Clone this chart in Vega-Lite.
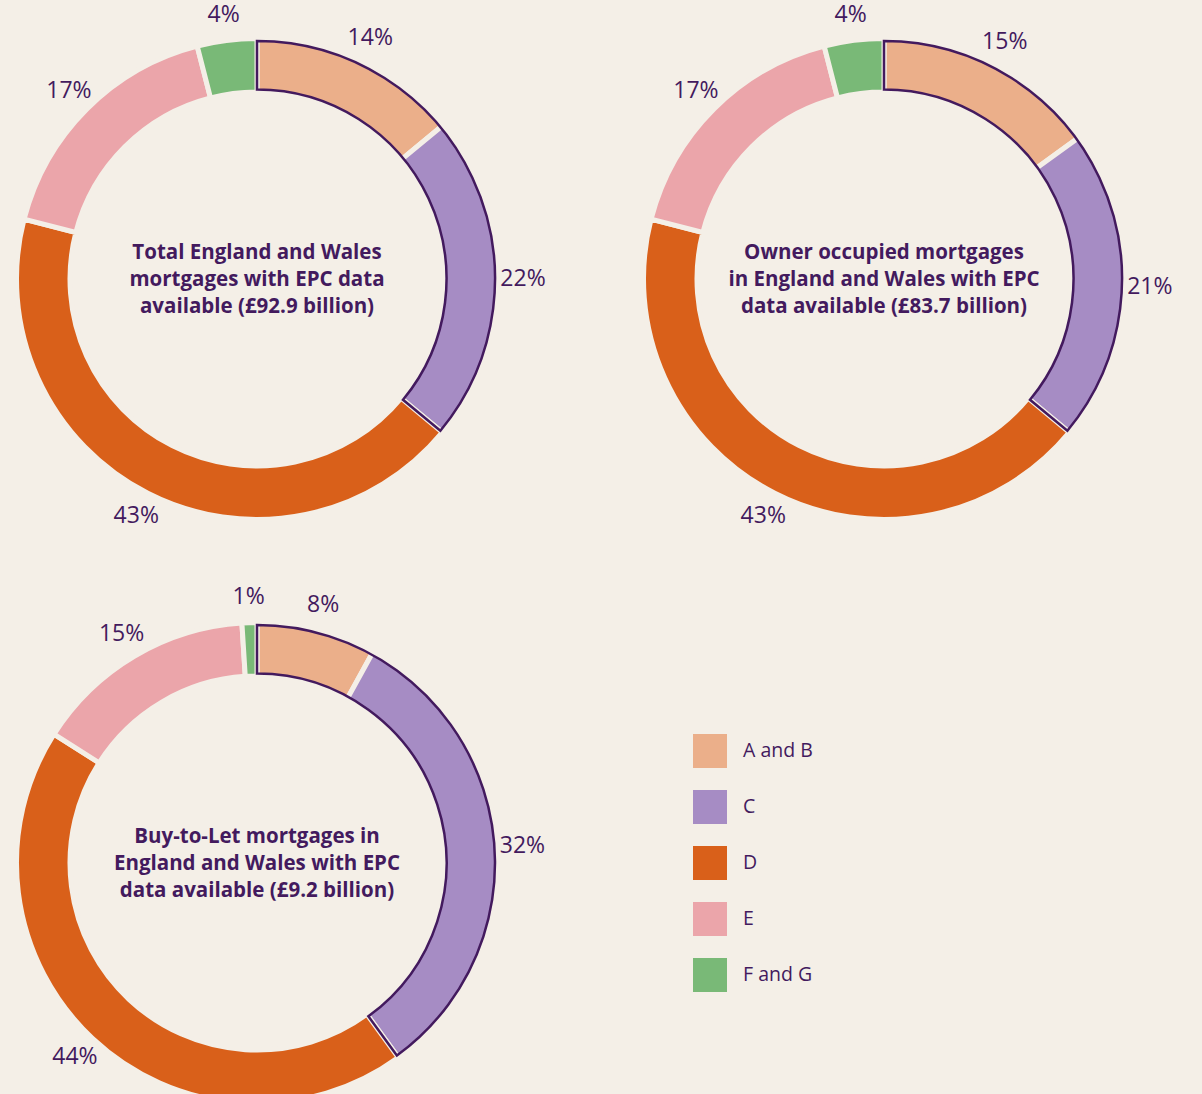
{
  "$schema": "https://vega.github.io/schema/vega-lite/v6.json",
  "background": "#f4efe7",
  "padding": {"left": 0, "top": 4, "right": 60, "bottom": 0},
  "bounds": "flush",
  "data": {
    "values": [
      {"chart": "Total", "category": "A and B", "value": 14, "title": "Total England and Wales\nmortgages with EPC data\navailable (£92.9 billion)"},
      {"chart": "Total", "category": "C", "value": 22, "title": "Total England and Wales\nmortgages with EPC data\navailable (£92.9 billion)"},
      {"chart": "Total", "category": "D", "value": 43, "title": "Total England and Wales\nmortgages with EPC data\navailable (£92.9 billion)"},
      {"chart": "Total", "category": "E", "value": 17, "title": "Total England and Wales\nmortgages with EPC data\navailable (£92.9 billion)"},
      {"chart": "Total", "category": "F and G", "value": 4, "title": "Total England and Wales\nmortgages with EPC data\navailable (£92.9 billion)"},
      {"chart": "Owner", "category": "A and B", "value": 15, "title": "Owner occupied mortgages\nin England and Wales with EPC\ndata available (£83.7 billion)"},
      {"chart": "Owner", "category": "C", "value": 21, "title": "Owner occupied mortgages\nin England and Wales with EPC\ndata available (£83.7 billion)"},
      {"chart": "Owner", "category": "D", "value": 43, "title": "Owner occupied mortgages\nin England and Wales with EPC\ndata available (£83.7 billion)"},
      {"chart": "Owner", "category": "E", "value": 17, "title": "Owner occupied mortgages\nin England and Wales with EPC\ndata available (£83.7 billion)"},
      {"chart": "Owner", "category": "F and G", "value": 4, "title": "Owner occupied mortgages\nin England and Wales with EPC\ndata available (£83.7 billion)"},
      {"chart": "BTL", "category": "A and B", "value": 8, "title": "Buy-to-Let mortgages in\nEngland and Wales with EPC\ndata available (£9.2 billion)"},
      {"chart": "BTL", "category": "C", "value": 32, "title": "Buy-to-Let mortgages in\nEngland and Wales with EPC\ndata available (£9.2 billion)"},
      {"chart": "BTL", "category": "D", "value": 44, "title": "Buy-to-Let mortgages in\nEngland and Wales with EPC\ndata available (£9.2 billion)"},
      {"chart": "BTL", "category": "E", "value": 15, "title": "Buy-to-Let mortgages in\nEngland and Wales with EPC\ndata available (£9.2 billion)"},
      {"chart": "BTL", "category": "F and G", "value": 1, "title": "Buy-to-Let mortgages in\nEngland and Wales with EPC\ndata available (£9.2 billion)"}
    ]
  },
  "facet": {
    "field": "chart",
    "type": "nominal",
    "sort": ["Total", "Owner", "BTL"],
    "header": {"labels": false, "title": null, "labelPadding": 0, "titlePadding": 0, "labelFontSize": 0, "labelExpr": "''"}
  },
  "columns": 2,
  "spacing": {"row": 40, "column": 113},
  "spec": {
    "width": 514,
    "height": 544,
    "layer": [
      {
        "mark": {"type": "arc", "radius": 240.5, "radius2": 187, "stroke": "#f4efe7", "strokeWidth": 5},
        "encoding": {
          "theta": {"field": "value", "type": "quantitative", "stack": true},
          "color": {
            "field": "category",
            "type": "nominal",
            "scale": {
              "domain": ["A and B", "C", "D", "E", "F and G"],
              "range": ["#ebaf8a", "#a68cc4", "#d9601a", "#eba5aa", "#79b977"]
            },
            "legend": {"title": null}
          },
          "order": {"field": "category", "type": "ordinal", "sort": "ascending"}
        }
      },
      {
        "transform": [
          {"filter": {"field": "category", "oneOf": ["A and B", "C"]}},
          {"aggregate": [{"op": "sum", "field": "value", "as": "value"}], "groupby": ["chart"]}
        ],
        "mark": {"type": "arc", "radius": 238, "radius2": 189.5, "fill": null, "fillOpacity": 0, "stroke": "#431a5e", "strokeWidth": 2.5},
        "encoding": {
          "theta": {"field": "value", "type": "quantitative", "stack": true}
        }
      },
      {
        "transform": [{"calculate": "datum.value + '%'", "as": "label"}],
        "mark": {"type": "text", "radius": 266, "font": "Open Sans", "fontSize": 23, "fill": "#431a5e", "align": "center", "baseline": "middle"},
        "encoding": {
          "theta": {"field": "value", "type": "quantitative", "stack": true},
          "detail": {"field": "category", "type": "nominal"},
          "order": {"field": "category", "type": "ordinal", "sort": "ascending"},
          "text": {"field": "label", "type": "nominal"}
        }
      },
      {
        "transform": [{"filter": {"field": "category", "equal": "A and B"}}],
        "mark": {"type": "text", "font": "Open Sans", "fontSize": 20.5, "fontWeight": "bold", "fill": "#431a5e", "align": "center", "baseline": "middle", "lineBreak": "\n", "lineHeight": 27, "dy": -26},
        "encoding": {
          "text": {"field": "title", "type": "nominal"}
        }
      }
    ]
  },
  "config": {
    "view": {"stroke": null},
    "headerFacet": {"labels": false, "title": null, "labelPadding": 0, "titlePadding": 0},
    "legend": {
      "orient": "none",
      "legendX": 693,
      "legendY": 727,
      "padding": 0,
      "symbolType": "square",
      "symbolSize": 1156,
      "symbolStrokeWidth": 0,
      "symbolOpacity": 1,
      "labelFont": "Open Sans",
      "labelFontSize": 19.5,
      "labelColor": "#431a5e",
      "labelOffset": 16,
      "rowPadding": 22
    }
  }
}
